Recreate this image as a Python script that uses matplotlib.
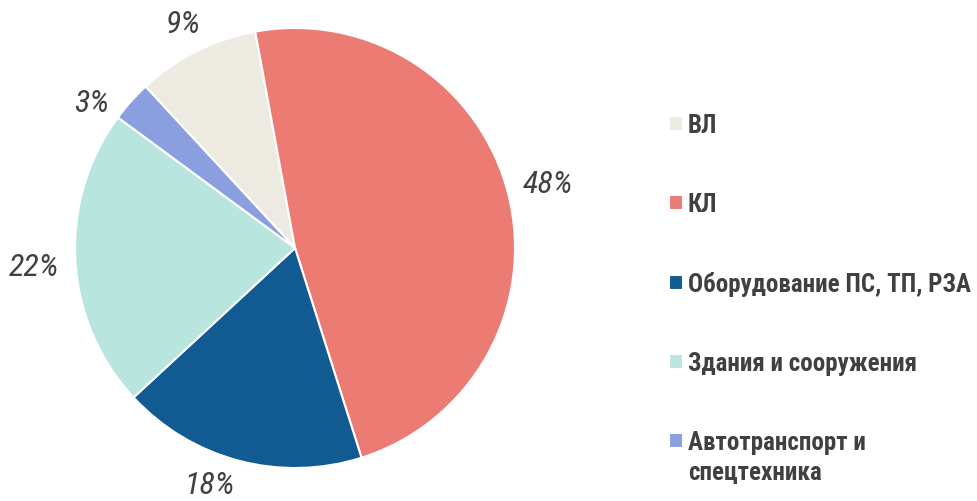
import numpy as np
import matplotlib.pyplot as plt
from matplotlib.legend_handler import HandlerPatch

labels = ['ВЛ', 'КЛ', 'Оборудование ПС, ТП, РЗА', 'Здания и сооружения', 'Автотранспорт и\nспецтехника']
shares = [9, 48, 18, 22, 3]
colors = ['#ECEAE1', '#EC7B73', '#125A92', '#B8E6DF', '#8A9FE0']

# label placement around the pie (angle shift in degrees, radius in pie radii)
label_shift = [0, 0, -5, 1, 6.5]
label_radius = [1.135, 1.185, 1.145, 1.19, 1.133]

font = ['Roboto Condensed', 'DejaVu Sans']
text_color = '#404040'


class TopAlignedHandler(HandlerPatch):
    # puts the square next to the first line of a two-line label
    def create_artists(self, legend, orig_handle, xdescent, ydescent, width, height, fontsize, trans):
        arts = super().create_artists(legend, orig_handle, xdescent, ydescent, width, height, fontsize, trans)
        arts[0].set_y(arts[0].get_y() + 0.72 * fontsize)
        return arts


fig = plt.figure(figsize=(9.78, 5.01), dpi=100)
ax = fig.add_axes([75 / 978, 33 / 501, 440 / 978, 440 / 501])

wedges, texts, autotexts = ax.pie(
    shares, colors=colors, startangle=132.8, counterclock=False,
    autopct='%.0f%%',
    wedgeprops=dict(edgecolor='white', linewidth=1.5),
)
for w, t, da, r in zip(wedges, autotexts, label_shift, label_radius):
    ang = np.deg2rad((w.theta1 + w.theta2) / 2 + da)
    t.set_position((r * np.cos(ang), r * np.sin(ang)))
    t.set_fontfamily(font)
    t.set_fontstyle('italic')
    t.set_fontsize(23)
    t.set_color(text_color)

ax.set_xlim(-1, 1)
ax.set_ylim(-1, 1)
ax.set_aspect('equal')

leg = fig.legend(
    wedges, labels, loc='upper left', bbox_to_anchor=(0.661, 0.818),
    frameon=False, handlelength=0.55, handleheight=0.55, handletextpad=0.2,
    labelspacing=2.2, prop=dict(family=font, weight='bold', size=18),
    handler_map={wedges[4]: TopAlignedHandler()},
)
for t in leg.get_texts():
    t.set_color(text_color)
    t.set_linespacing(1.35)

fig.savefig('out.png', dpi=100)
